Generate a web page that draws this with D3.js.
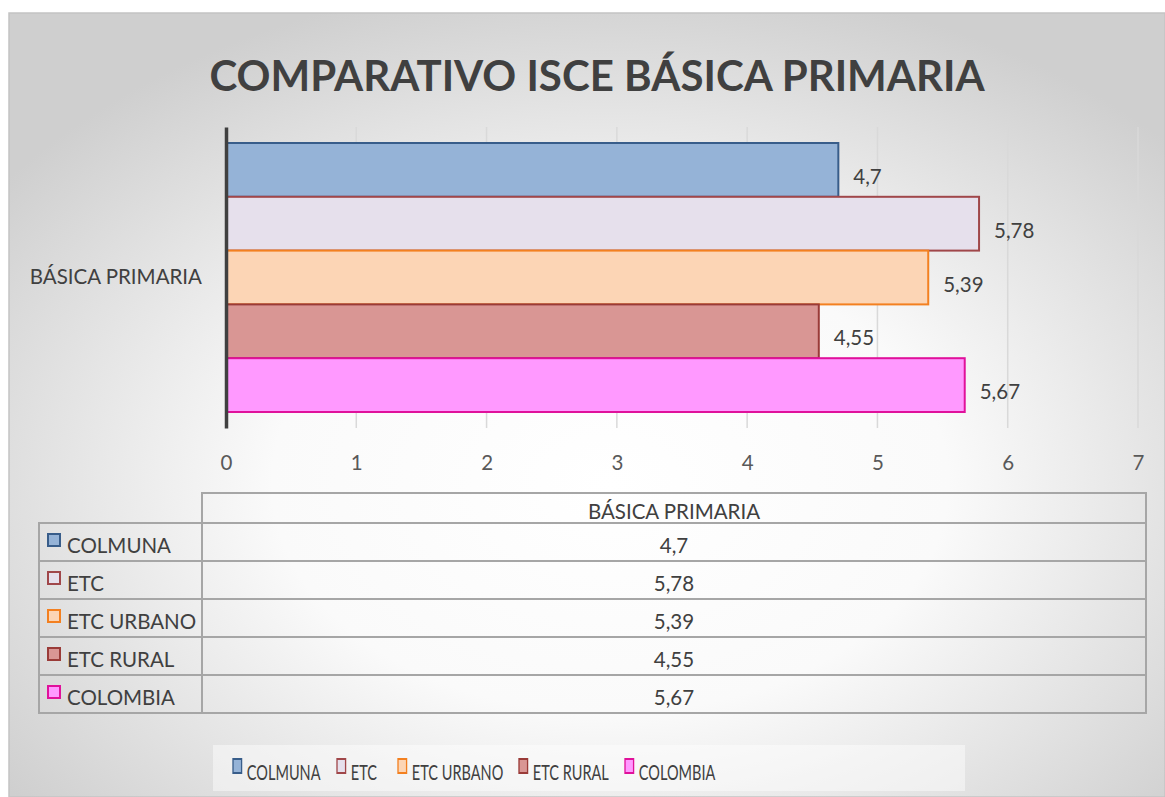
<!DOCTYPE html>
<html>
<head>
<meta charset="utf-8">
<script src="https://cdn.jsdelivr.net/npm/d3@7"></script>
<style>
  body { margin: 0; background: #fff; }
  svg text { font-family: Lato, "Noto Sans", sans-serif; }
</style>
</head>
<body>
<div id="chart"></div>
<script>
// datos del gráfico
const categories = ['BÁSICA PRIMARIA'];
const seriesNames = ['COLMUNA', 'ETC', 'ETC URBANO', 'ETC RURAL', 'COLOMBIA'];
const seriesValues = [4.7, 5.78, 5.39, 4.55, 5.67];
const seriesFill = ['#95B3D7', '#E6E0EC', '#FCD5B5', '#D99694', '#FF99FF'];
const seriesStroke = ['#385D8A', '#A0474A', '#F38020', '#9A3B38', '#E0119B'];
const xTicks = [0, 1, 2, 3, 4, 5, 6, 7];
const titleText = 'COMPARATIVO ISCE BÁSICA PRIMARIA';

const W = 1165, H = 797;
const FS = 20.5;
const fmt = v => String(v).replace('.', ',');

const svg = d3.select('#chart').append('svg')
    .attr('width', W)
    .attr('height', H);

// fondo con degradado
const defs = svg.append('defs');
const grad = defs.append('radialGradient')
    .attr('id', 'bg')
    .attr('cx', '52%').attr('cy', '60%').attr('r', '65%');
grad.append('stop').attr('offset', '0%').attr('stop-color', '#FFFFFF');
grad.append('stop').attr('offset', '45%').attr('stop-color', '#FAFAFA');
grad.append('stop').attr('offset', '100%').attr('stop-color', '#CFCFCF');

svg.append('rect')
    .attr('x', 9).attr('y', 13)
    .attr('width', W - 9).attr('height', H - 13)
    .attr('fill', 'url(#bg)')
    .attr('stroke', '#C4C4C4')
    .attr('stroke-width', 1.5);

// título
svg.append('text')
    .attr('x', 597).attr('y', 91)
    .attr('text-anchor', 'middle')
    .attr('font-size', 42)
    .attr('font-weight', 'bold')
    .attr('fill', '#404040')
    .text(titleText);

// escalas
const x = d3.scaleLinear().domain([0, 7]).range([226, 1138]);
const y0 = d3.scaleBand().domain(categories).range([127, 428]).padding(0);
const y1 = d3.scaleBand().domain(seriesNames)
    .range([16, y0.bandwidth() - 16]).padding(0);

// líneas de cuadrícula
svg.append('g')
    .selectAll('line')
    .data(xTicks.slice(1))
    .join('line')
    .attr('x1', d => x(d)).attr('x2', d => x(d))
    .attr('y1', 127).attr('y2', 428)
    .attr('stroke', '#D9D9D9')
    .attr('stroke-width', 1.5);

// eje X (sólo etiquetas)
const xAxis = svg.append('g')
    .attr('transform', 'translate(0,428)')
    .call(d3.axisBottom(x).tickValues(xTicks).tickFormat(d3.format('d'))
        .tickSize(0).tickPadding(27));
xAxis.select('.domain').remove();
xAxis.selectAll('text')
    .attr('font-size', FS)
    .attr('fill', '#595959')
    .style('font-family', 'Lato, "Noto Sans", sans-serif');

// barras
const cat = svg.append('g');
categories.forEach(c => {
    const g = cat.append('g').attr('transform', `translate(0,${y0(c)})`);
    seriesNames.forEach((s, i) => {
        g.append('rect')
            .attr('x', x(0))
            .attr('y', y1(s))
            .attr('width', x(seriesValues[i]) - x(0))
            .attr('height', y1.bandwidth())
            .attr('fill', seriesFill[i])
            .attr('stroke', seriesStroke[i])
            .attr('stroke-width', 2);
        g.append('text')
            .attr('x', x(seriesValues[i]) + 15)
            .attr('y', y1(s) + y1.bandwidth() / 2 + 14)
            .attr('font-size', FS)
            .attr('fill', '#404040')
            .text(fmt(seriesValues[i]));
    });
});

// eje Y
const yAxis = svg.append('g')
    .attr('transform', `translate(${x(0)},0)`)
    .call(d3.axisLeft(y0).tickSize(0).tickPadding(24));
yAxis.select('.domain')
    .attr('stroke', '#404040')
    .attr('stroke-width', 3.5);
yAxis.selectAll('text')
    .attr('font-size', FS)
    .attr('fill', '#404040')
    .style('font-family', 'Lato, "Noto Sans", sans-serif');

// tabla de datos
const tLeft = 39, tMid = 202, tRight = 1146;
const headTop = 493, rowTop = 523, rowH = 38;
const table = svg.append('g')
    .attr('stroke', '#A6A6A6')
    .attr('stroke-width', 2)
    .attr('fill', 'none');
table.append('rect')
    .attr('x', tMid).attr('y', headTop)
    .attr('width', tRight - tMid).attr('height', rowTop - headTop);
seriesNames.forEach((s, i) => {
    table.append('rect')
        .attr('x', tLeft).attr('y', rowTop + i * rowH)
        .attr('width', tMid - tLeft).attr('height', rowH);
    table.append('rect')
        .attr('x', tMid).attr('y', rowTop + i * rowH)
        .attr('width', tRight - tMid).attr('height', rowH);
});
const midX = (tMid + tRight) / 2;
svg.append('text')
    .attr('x', midX).attr('y', headTop + 26)
    .attr('text-anchor', 'middle')
    .attr('font-size', FS)
    .attr('fill', '#404040')
    .text(categories[0]);
seriesNames.forEach((s, i) => {
    const ry = rowTop + i * rowH;
    svg.append('rect')
        .attr('x', 48).attr('y', ry + 11)
        .attr('width', 12).attr('height', 12)
        .attr('fill', seriesFill[i])
        .attr('stroke', seriesStroke[i])
        .attr('stroke-width', 2);
    svg.append('text')
        .attr('x', 67).attr('y', ry + 30)
        .attr('font-size', FS)
        .attr('fill', '#404040')
        .text(s);
    svg.append('text')
        .attr('x', midX).attr('y', ry + 30)
        .attr('text-anchor', 'middle')
        .attr('font-size', FS)
        .attr('fill', '#404040')
        .text(fmt(seriesValues[i]));
});

// leyenda inferior (texto comprimido)
svg.append('rect')
    .attr('x', 213).attr('y', 745)
    .attr('width', 752).attr('height', 46)
    .attr('fill', '#FFFFFF')
    .attr('fill-opacity', 0.45);
const legendX = [233, 337, 398, 519, 625];
const legend = svg.append('g');
seriesNames.forEach((s, i) => {
    const lg = legend.append('g')
        .attr('transform', `translate(${legendX[i]},759) scale(0.66,1)`);
    lg.append('rect')
        .attr('x', 0).attr('y', 0)
        .attr('width', 13).attr('height', 14)
        .attr('fill', seriesFill[i])
        .attr('stroke', seriesStroke[i])
        .attr('stroke-width', 2);
    lg.append('text')
        .attr('x', 21).attr('y', 21)
        .attr('font-size', 22)
        .attr('fill', '#404040')
        .text(s);
});
</script>
</body>
</html>
